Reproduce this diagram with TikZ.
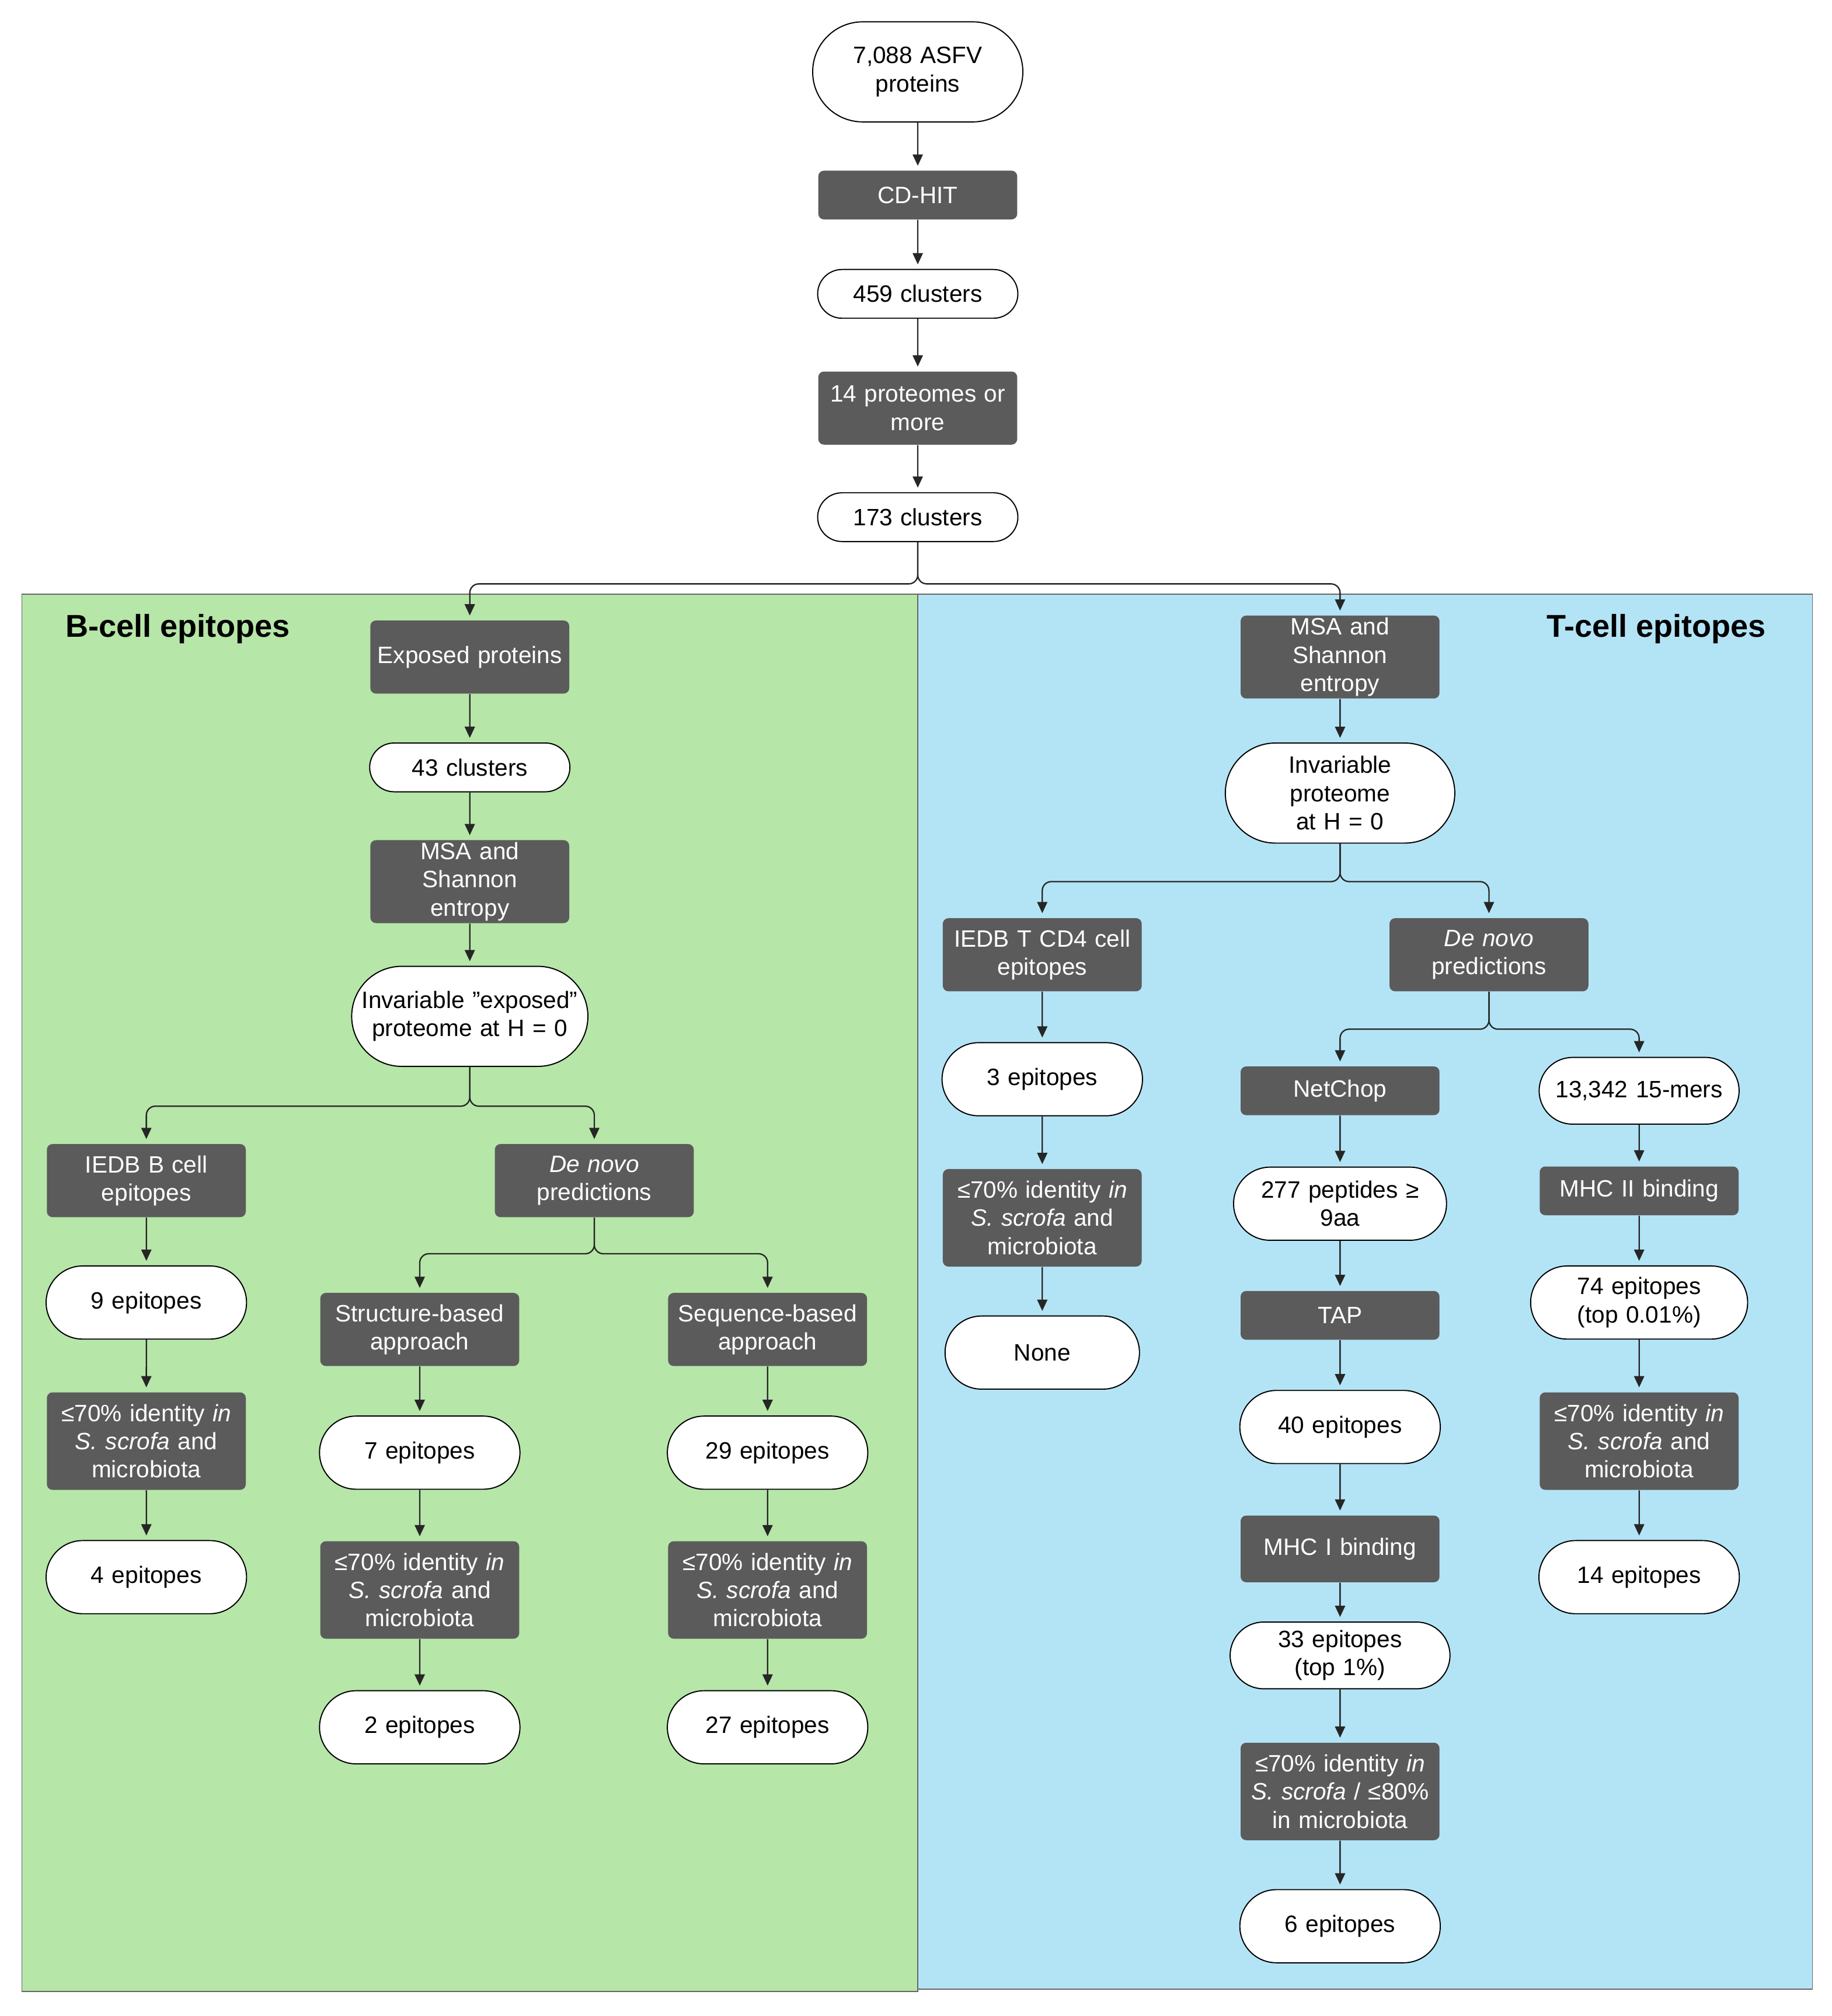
\documentclass[tikz,border=0pt]{standalone}
\usepackage{fontspec}
\setmainfont{Liberation Sans}
\usetikzlibrary{shapes.misc,arrows.meta}
\definecolor{dk}{HTML}{5B5B5B}
\definecolor{gr}{HTML}{B6E6A8}
\definecolor{bl}{HTML}{B3E4F6}
\begin{document}
\begin{tikzpicture}[x=0.02cm,y=-0.02cm,
 every node/.style={font=\fontsize{10.5}{12.5}\selectfont,align=center,text width=3cm,inner sep=1pt},
 box/.style={fill=dk,text=white,rounded corners=2.5pt,minimum width=3.1cm,minimum height=0.76cm},
 pill/.style={draw=black,fill=white,rounded rectangle,minimum width=3.1cm,minimum height=0.76cm,line width=0.5pt},
 h57/.style={minimum height=1.14cm},h76/.style={minimum height=1.52cm},h52/.style={minimum height=1.04cm},
 arr/.style={draw=black!85,line width=0.6pt,-{Triangle[length=5pt,width=4.5pt]},shorten >=2pt,rounded corners=4pt},
 ttl/.style={font=\fontsize{14}{16}\selectfont\bfseries,text width=}]
\useasboundingbox (0,0) rectangle (1427,1571);
\fill[gr,draw=black!60] (17,463) rectangle (715,1552);
\fill[bl,draw=black!60] (715,463) rectangle (1412,1550);
\node[ttl,anchor=west] at (49,490) {B-cell epitopes};
\node[ttl,anchor=east] at (1378,490) {T-cell epitopes};
\node[pill,minimum height=1.56cm] (top) at (715,56) {7,088 ASFV\\proteins};
\node[box] (cdhit) at (715,152) {CD-HIT};
\node[pill] (c459) at (715,229) {459 clusters};
\node[box,h57] (p14) at (715,318) {14 proteomes or\\more};
\node[pill] (c173) at (715,403) {173 clusters};
% B side
\node[box,h57] (exp) at (366,512) {Exposed proteins};
\node[pill] (c43) at (366,598) {43 clusters};
\node[box,h57] (msab) at (366,687) {MSA and Shannon\\entropy};
\node[pill,minimum height=1.56cm,minimum width=3.44cm,text width=3.4cm] (invb) at (366,792) {Invariable "exposed"\\proteome at H = 0};
\node[box,h57] (iedbb) at (114,920) {IEDB B cell\\epitopes};
\node[box,h57] (dnb) at (463,920) {\textit{De novo}\\predictions};
\node[pill,h57] (e9) at (114,1015) {9 epitopes};
\node[box,h76] (fb1) at (114,1123) {≤70\% identity \textit{in}\\\textit{S. scrofa} and\\microbiota};
\node[pill,h57] (e4) at (114,1229) {4 epitopes};
\node[box,h57] (str) at (327,1036) {Structure-based\\approach};
\node[box,h57] (seq) at (598,1036) {Sequence-based\\approach};
\node[pill,h57] (e7) at (327,1132) {7 epitopes};
\node[pill,h57] (e29) at (598,1132) {29 epitopes};
\node[box,h76] (fb2) at (327,1239) {≤70\% identity \textit{in}\\\textit{S. scrofa} and\\microbiota};
\node[box,h76] (fb3) at (598,1239) {≤70\% identity \textit{in}\\\textit{S. scrofa} and\\microbiota};
\node[pill,h57] (e2) at (327,1346) {2 epitopes};
\node[pill,h57] (e27) at (598,1346) {27 epitopes};
% T side
\node[box,h57] (msat) at (1044,512) {MSA and Shannon\\entropy};
\node[pill,minimum height=1.56cm] (invt) at (1044,618) {Invariable\\proteome at H = 0};
\node[box,h57] (iedbt) at (812,744) {IEDB T CD4 cell\\epitopes};
\node[box,h57] (dnt) at (1160,744) {\textit{De novo}\\predictions};
\node[pill,h57] (e3) at (812,841) {3 epitopes};
\node[box,h76] (ft1) at (812,949) {≤70\% identity \textit{in}\\\textit{S. scrofa} and\\microbiota};
\node[pill,h57] (none) at (812,1054) {None};
\node[box] (netchop) at (1044,850) {NetChop};
\node[pill,h52] (mers) at (1277,850) {13,342 15-mers};
\node[pill,h57] (p277) at (1044,938) {277 peptides ≥\\9aa};
\node[box] (mhc2) at (1277,928) {MHC II binding};
\node[box] (tap) at (1044,1025) {TAP};
\node[pill,h57] (e74) at (1277,1015) {74 epitopes\\(top 0.01\%)};
\node[pill,h57] (e40) at (1044,1112) {40 epitopes};
\node[box,h76] (ft3) at (1277,1123) {≤70\% identity \textit{in}\\\textit{S. scrofa} and\\microbiota};
\node[box,h52] (mhc1) at (1044,1207) {MHC I binding};
\node[pill,h57] (e14) at (1277,1229) {14 epitopes};
\node[pill,h52] (e33) at (1044,1290) {33 epitopes\\(top 1\%)};
\node[box,h76] (ft2) at (1044,1396) {≤70\% identity \textit{in}\\\textit{S. scrofa} / ≤80\%\\in microbiota};
\node[pill,h57] (e6) at (1044,1501) {6 epitopes};
% arrows
\foreach \a/\b in {top/cdhit,cdhit/c459,c459/p14,p14/c173,exp/c43,c43/msab,msab/invb,
 iedbb/e9,e9/fb1,fb1/e4,str/e7,e7/fb2,fb2/e2,seq/e29,e29/fb3,fb3/e27,
 msat/invt,iedbt/e3,e3/ft1,ft1/none,netchop/p277,p277/tap,tap/e40,e40/mhc1,mhc1/e33,e33/ft2,ft2/e6,
 mers/mhc2,mhc2/e74,e74/ft3,ft3/e14}
 \draw[arr] (\a) -- (\b);
\draw[arr] (c173.south) -- (715,455) -| (exp.north);
\draw[arr] (c173.south) -- (715,455) -| (msat.north);
\draw[arr] (invb.south) -- (366,862) -| (iedbb.north);
\draw[arr] (invb.south) -- (366,862) -| (dnb.north);
\draw[arr] (dnb.south) -- (463,977) -| (str.north);
\draw[arr] (dnb.south) -- (463,977) -| (seq.north);
\draw[arr] (invt.south) -- (1044,687) -| (iedbt.north);
\draw[arr] (invt.south) -- (1044,687) -| (dnt.north);
\draw[arr] (dnt.south) -- (1160,802) -| (netchop.north);
\draw[arr] (dnt.south) -- (1160,802) -| (mers.north);
\end{tikzpicture}
\end{document}
